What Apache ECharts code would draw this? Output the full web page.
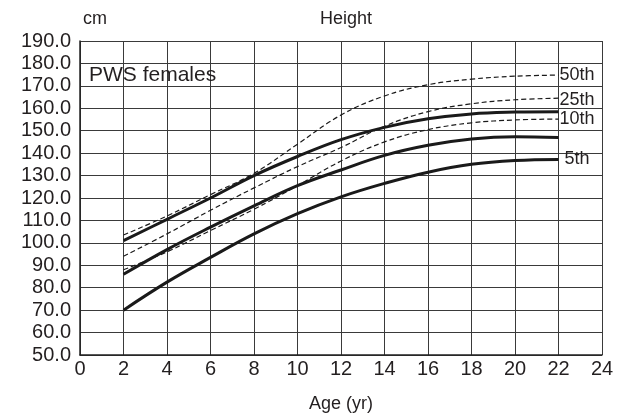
<!DOCTYPE html>
<html>
<head>
<meta charset="utf-8">
<script src="https://cdn.jsdelivr.net/npm/echarts@6/dist/echarts.min.js"></script>
<style>html,body{margin:0;padding:0;background:#fff;}#c{width:634px;height:420px;}</style>
</head>
<body>
<div id="c"></div>
<script>
var ages = [2, 4, 6, 8, 10, 12, 14, 16, 18, 20, 22];
var xTicks = [0, 2, 4, 6, 8, 10, 12, 14, 16, 18, 20, 22, 24];
var yTicks = [50, 60, 70, 80, 90, 100, 110, 120, 130, 140, 150, 160, 170, 180, 190];
// PWS females (solid)
var pwsUpper = [101, 110.5, 120, 130, 138.5, 146, 151.5, 155.3, 157.5, 158.3, 158.5];
var pwsMiddle = [86, 97, 107, 116.5, 125.5, 132.5, 139, 143.5, 146.3, 147.3, 147];
var pwsLower = [70, 82.5, 93.5, 104, 113, 120.5, 126.5, 131.5, 135, 136.7, 137.2];
// reference percentiles (dashed)
var p50 = [103.5, 112, 121.5, 131, 144, 157, 165.5, 170.5, 173, 174.3, 174.8];
var p25 = [94, 104, 114.5, 124.5, 134, 142.5, 152, 158.5, 162, 163.8, 164.5];
var p10 = [88, 96, 105.5, 115, 125.5, 136.5, 145, 150.5, 153.5, 154.8, 155.2];

function pairs(vals) { return ages.map(function (a, i) { return [a, vals[i]]; }); }
var FONT = 'Liberation Sans, Arial, sans-serif';
var TXT = '#231f20';

function solid(name, vals, label) {
  var s = {
    name: name, type: 'line', data: pairs(vals), smooth: 0.4, symbol: 'none',
    lineStyle: { color: '#1a1a1a', width: 3 }, z: 3
  };
  if (label) {
    s.endLabel = { show: true, formatter: label, fontFamily: FONT, fontSize: 18, color: TXT, distance: 6, offset: [0, 0] };
  }
  return s;
}
function dashed(name, vals, label, off) {
  return {
    name: name, type: 'line', data: pairs(vals), smooth: 0.4, symbol: 'none',
    lineStyle: { color: '#1a1a1a', width: 1.2, type: [5, 3] }, z: 2,
    endLabel: { show: true, formatter: label, fontFamily: FONT, fontSize: 18, color: TXT, distance: 1, offset: off || [0, 0] }
  };
}

var chart = echarts.init(document.getElementById('c'), null, { renderer: 'canvas' });
chart.setOption({
  animation: false,
  backgroundColor: '#fff',
  title: [
    { text: 'Height', left: 341, top: 5, textAlign: 'center',
      textStyle: { fontFamily: FONT, fontSize: 18, fontWeight: 'normal', color: TXT } },
    { text: 'cm', left: 90, top: 5, textAlign: 'center',
      textStyle: { fontFamily: FONT, fontSize: 18, fontWeight: 'normal', color: TXT } },
    { text: 'PWS females', left: 84, top: 60,
      textStyle: { fontFamily: FONT, fontSize: 21, fontWeight: 'normal', color: TXT } }
  ],
  grid: { left: 80, right: 32, top: 41, bottom: 65, show: false },
  xAxis: {
    type: 'value', min: 0, max: 24, interval: 2,
    name: 'Age (yr)', nameLocation: 'middle', nameGap: 40,
    nameTextStyle: { fontFamily: FONT, fontSize: 18, color: TXT },
    axisLine: { show: true, lineStyle: { color: '#222', width: 1.5 } },
    axisTick: { show: false },
    axisLabel: { fontFamily: FONT, fontSize: 20, color: TXT, margin: 4,
      customValues: xTicks, formatter: function (v) { return String(v); } },
    splitLine: { show: true, lineStyle: { color: '#3a3a3a', width: 1 } }
  },
  yAxis: {
    type: 'value', min: 50, max: 190, interval: 10,
    axisLine: { show: true, lineStyle: { color: '#222', width: 1.5 } },
    axisTick: { show: false },
    axisLabel: { fontFamily: FONT, fontSize: 20, color: TXT, margin: 9,
      customValues: yTicks, formatter: function (v) { return v.toFixed(1); } },
    splitLine: { show: true, lineStyle: { color: '#3a3a3a', width: 1 } }
  },
  series: [
    dashed('50th', p50, '50th', [0, 0]),
    dashed('25th', p25, '25th', [0, 2]),
    dashed('10th', p10, '10th', [0, 0]),
    solid('PWS upper', pwsUpper, null),
    solid('PWS middle', pwsMiddle, null),
    solid('PWS lower', pwsLower, '5th')
  ]
});
</script>
</body>
</html>
